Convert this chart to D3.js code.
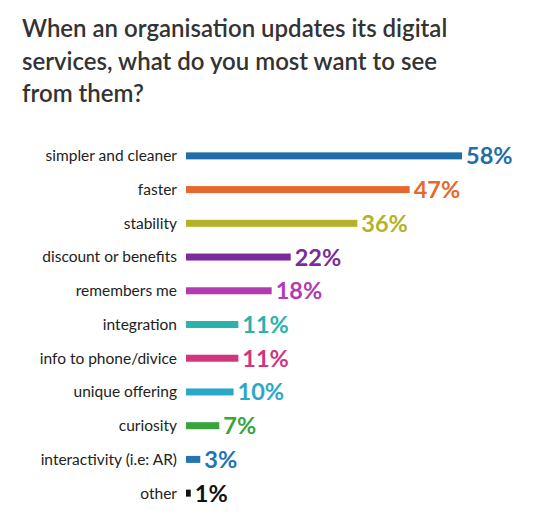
<!DOCTYPE html>
<html><head><meta charset="utf-8">
<script src="https://cdn.jsdelivr.net/npm/d3@7"></script>
<style>body{margin:0;background:#fff}</style>
</head><body><div id="chart"></div>
<script>
const titleLines = ["When an organisation updates its digital", "services, what do you most want to see", "from them?"];
const categories = ["simpler and cleaner", "faster", "stability", "discount or benefits", "remembers me", "integration", "info to phone/divice", "unique offering", "curiosity", "interactivity (i.e: AR)", "other"];
const values = [58, 47, 36, 22, 18, 11, 11, 10, 7, 3, 1];
const colors = ["#1f6ea7", "#e5692c", "#b3b229", "#7a2c9c", "#b33bb0", "#2bb2ad", "#d3357d", "#2aa8c8", "#3aa43c", "#2474b3", "#111111"];

const width = 536, height = 525;
const svg = d3.select("#chart").append("svg").attr("width", width).attr("height", height);

svg.append("g").selectAll("text").data(titleLines).enter().append("text")
  .attr("x", 22).attr("y", (d, i) => 37 + i * 32.5)
  .attr("font-family", "Lato, sans-serif").attr("font-size", 24).attr("font-weight", 600)
  .attr("fill", "#333").text(d => d);

const x = d3.scaleLinear().domain([0, 58]).range([186, 462]);
const y = d3.scaleBand().domain(categories).range([139, 510]).padding(0);

const rows = svg.append("g").selectAll("g").data(categories).enter().append("g")
  .attr("transform", d => `translate(0,${y(d) + y.bandwidth() / 2})`);

rows.append("text").attr("x", 177).attr("dy", "0.35em").attr("text-anchor", "end")
  .attr("font-family", "Lato, sans-serif").attr("font-size", 15.5).attr("fill", "#222")
  .text(d => d);

rows.append("rect").attr("x", x(0)).attr("y", -3.5).attr("height", 7)
  .attr("width", (d, i) => x(values[i]) - x(0)).attr("fill", (d, i) => colors[i]);

rows.append("text").attr("x", (d, i) => x(values[i]) + 4).attr("dy", "0.36em")
  .attr("font-family", "Lato, sans-serif").attr("font-size", 23.5).attr("font-weight", 700)
  .attr("fill", (d, i) => colors[i]).text((d, i) => values[i] + "%");
</script></body></html>
